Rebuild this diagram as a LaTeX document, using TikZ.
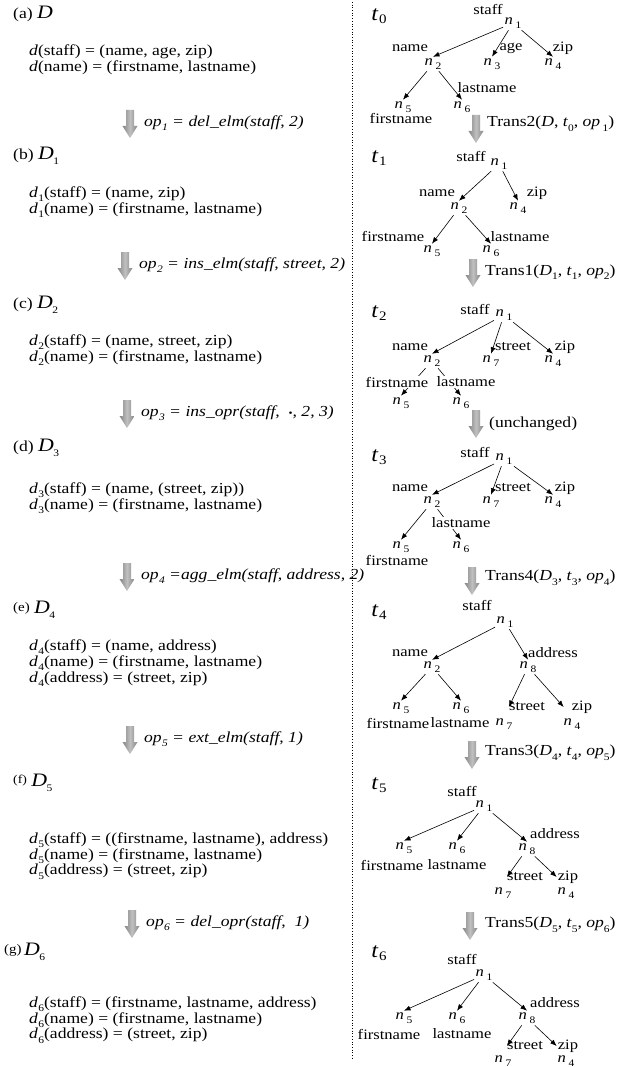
\documentclass[tikz,border=0pt]{standalone}
\usepackage{fontspec}
\setmainfont{Liberation Serif}[FakeStretch=1.15]
\usetikzlibrary{arrows.meta}
\newcommand\sbs[1]{\raisebox{-0.3em}{\fontsize{10}{10}\selectfont #1}}
\newcommand\nlab[1]{\textit{n}\hspace{2.5pt}\sbs{#1}}
\newcommand\bigD[1]{{\fontsize{19}{19}\selectfont\textit{D}}\kern-0.5pt\sbs{#1}}
\newcommand\tlab[1]{{\fontsize{21}{21}\selectfont\textit{t}}\kern0.5pt\raisebox{-0.25em}{\fontsize{13}{13}\selectfont #1}}
\newcommand\dd[1]{\textit{d}\kern0.3pt\sbs{#1}}
\newcommand\opl[1]{\textit{op}\kern0.3pt\sbs{#1}}
\newcommand\lfont{\fontsize{15.3}{16}\selectfont}
\newcommand\tfont{\fontsize{14.4}{15}\selectfont}
\begin{document}
\begin{tikzpicture}[x=1pt,y=-1pt,
  every node/.style={inner sep=0pt},
  txt/.style={anchor=west, font=\lfont},
  hd/.style={anchor=west, font=\lfont},
  wd/.style={font=\tfont},
  nd/.style={font=\tfont, inner sep=1.5pt},
  hide/.style={font=\tfont, fill=white, inner sep=1pt},
  tl/.style={anchor=west, font=\lfont},
  edge/.style={-{Latex[length=6.5pt,width=5pt]}, line width=0.6pt},
  garrow/.pic={\path[left color=gray!95, right color=gray!95, middle color=gray!50]
     (-4,-14) -- (4,-14) -- (4,2) -- (7.5,2) -- (0,14) -- (-7.5,2) -- (-4,2) -- cycle;}
]
\fill[white] (0,0) rectangle (618,1067);
\useasboundingbox (0,0) rectangle (618,1067);
% dotted separator
\coordinate (dtop) at (352,2);
\coordinate (dbot) at (352,1058);
\draw[dotted, line width=0.7pt] (dtop) -- (dbot);

% ---------------- left column ----------------
\node[hd] (ha) at (13,15) {(a) \bigD{}};
\node[txt] (a1) at (29,52) {\textit{d}(staff) = (name, age, zip)};
\node[txt] (a2) at (29,68) {\textit{d}(name) = (firstname, lastname)};
\pic at (130,124) {garrow};
\node[tl] (op1) at (144,123) {\textit{\opl{1} = del\_elm(staff, 2)}};

\node[hd] (hb) at (13,156) {(b) \bigD{1}};
\node[txt] (b1) at (29,194) {\dd{1}(staff) = (name, zip)};
\node[txt] (b2) at (29,210) {\dd{1}(name) = (firstname, lastname)};
\pic at (125,266) {garrow};
\node[tl] (op2) at (139,265) {\textit{\opl{2} = ins\_elm(staff, street, 2)}};

\node[hd] (hc) at (13,305) {(c) \bigD{2}};
\node[txt] (c1) at (29,342) {\dd{2}(staff) = (name, street, zip)};
\node[txt] (c2) at (29,358) {\dd{2}(name) = (firstname, lastname)};
\pic at (127,414) {garrow};
\node[tl] (op3) at (141,413) {\textit{\opl{3} = ins\_opr(staff, \ {\fontsize{10}{10}\selectfont\upshape •}, 2, 3)}};

\node[hd] (hd3) at (13,448) {(d) \bigD{3}};
\node[txt] (d1) at (29,490) {\dd{3}(staff) = (name, (street, zip))};
\node[txt] (d2) at (29,506) {\dd{3}(name) = (firstname, lastname)};
\pic at (127,577) {garrow};
\node[tl] (op4) at (141,576) {\textit{\opl{4} =agg\_elm(staff, address, 2)}};

\node[hd] (he) at (13,610) {{\fontsize{13}{13}\selectfont\raisebox{0.2em}{(e)}} \bigD{4}};
\node[txt] (e1) at (29,647) {\dd{4}(staff) = (name, address)};
\node[txt] (e2) at (29,663) {\dd{4}(name) = (firstname, lastname)};
\node[txt] (e3) at (29,679) {\dd{4}(address) = (street, zip)};
\pic at (130,740) {garrow};
\node[tl] (op5) at (144,739) {\textit{\opl{5} = ext\_elm(staff, 1)}};

\node[hd] (hf) at (13,783) {{\fontsize{12}{12}\selectfont\raisebox{0.25em}{(f)}} \bigD{5}};
\node[txt] (f1) at (29,840) {\dd{5}(staff) = ((firstname, lastname), address)};
\node[txt] (f2) at (29,856) {\dd{5}(name) = (firstname, lastname)};
\node[txt] (f3) at (29,872) {\dd{5}(address) = (street, zip)};
\pic at (132,924) {garrow};
\node[tl] (op6) at (146,923) {\textit{\opl{6} = del\_opr(staff, \ 1)}};

\node[hd] (hg) at (4,952) {{\fontsize{13}{13}\selectfont\raisebox{0.2em}{(g)}}\,\bigD{6}};
\node[txt] (g1) at (29,1004) {\dd{6}(staff) = (firstname, lastname, address)};
\node[txt] (g2) at (29,1020) {\dd{6}(name) = (firstname, lastname)};
\node[txt] (g3) at (29,1036) {\dd{6}(address) = (street, zip)};

% ---------------- right column ----------------
% t0
\node (t0) at (379,16) {\tlab{0}};
\node[wd] (t0s) at (488,10) {staff};
\node[nd] (t0n1) at (513,23) {\nlab{1}};
\node[wd] (t0name) at (410,48) {name};
\node[nd] (t0n2) at (433,64) {\nlab{2}};
\node[wd] (t0age) at (511,48) {age};
\node[nd] (t0n3) at (492,64) {\nlab{3}};
\node[wd] (t0zip) at (563,48) {zip};
\node[nd] (t0n4) at (553,64) {\nlab{4}};
\node[wd] (t0last) at (487,88) {lastname};
\node[nd] (t0n5) at (403,107) {\nlab{5}};
\node[nd] (t0n6) at (462,107) {\nlab{6}};
\node[wd] (t0first) at (401,119) {firstname};
\draw[edge] (t0n1) -- (t0n2.north);
\draw[edge] (t0n1) -- (t0n3.north);
\draw[edge] (t0n1) -- (t0n4.north);
\draw[edge] (t0n2) -- (t0n5.north);
\draw[edge] (t0n2) -- (t0n6.north);
\pic at (476,129) {garrow};
\node[tl] (tr2) at (487,124) {Trans2(\textit{D}, \textit{t}\sbs{0}, \textit{op}\,\sbs{1})};

% t1
\node (t1) at (379,158) {\tlab{1}};
\node[wd] (t1s) at (471,157) {staff};
\node[nd] (t1n1) at (499,164) {\nlab{1}};
\node[wd] (t1name) at (437,193) {name};
\node[nd] (t1n2) at (459,208) {\nlab{2}};
\node[wd] (t1zip) at (537,193) {zip};
\node[nd] (t1n4) at (518,208) {\nlab{4}};
\node[wd] (t1first) at (393,237) {firstname};
\node[nd] (t1n5) at (432,251) {\nlab{5}};
\node[wd] (t1last) at (520,237) {lastname};
\node[nd] (t1n6) at (491,251) {\nlab{6}};
\draw[edge] (t1n1) -- (t1n2.north);
\draw[edge] (t1n1) -- (t1n4.north);
\draw[edge] (t1n2) -- (t1n5.north);
\draw[edge] (t1n2) -- (t1n6.north);
\pic at (473,273) {garrow};
\node[tl] (tr1) at (485,272) {Trans1(\textit{D}\sbs{1}, \textit{t}\sbs{1}, \textit{op}\sbs{2})};

% t2
\node (t2) at (379,313) {\tlab{2}};
\node[wd] (t2s) at (475,310) {staff};
\node[nd] (t2n1) at (504,315) {\nlab{1}};
\node[wd] (t2name) at (410,347) {name};
\node[nd] (t2n2) at (432,361) {\nlab{2}};
\node[wd] (t2street) at (513,347) {street};
\node[nd] (t2n7) at (491,361) {\nlab{7}};
\node[wd] (t2zip) at (565,347) {zip};
\node[nd] (t2n4) at (553,361) {\nlab{4}};
\node[nd] (t2n5) at (401,403) {\nlab{5}};
\node[nd] (t2n6) at (461,403) {\nlab{6}};
\draw[edge] (t2n1) -- (t2n2.north);
\draw[edge] (t2n1) -- (t2n7.north);
\draw[edge] (t2n1) -- (t2n4.north);
\draw[edge] (t2n2) -- (t2n5.north);
\draw[edge] (t2n2) -- (t2n6.north);
\node[hide] (t2first) at (397,382) {firstname};
\node[hide] (t2last) at (466,382) {lastname};
\pic at (476,424) {garrow};
\node[tl] (tru) at (489,424) {(unchanged)};

% t3
\node (t3) at (379,457) {\tlab{3}};
\node[wd] (t3s) at (475,452) {staff};
\node[nd] (t3n1) at (504,459) {\nlab{1}};
\node[wd] (t3name) at (410,488) {name};
\node[nd] (t3n2) at (432,502) {\nlab{2}};
\node[wd] (t3street) at (513,488) {street};
\node[nd] (t3n7) at (491,502) {\nlab{7}};
\node[wd] (t3zip) at (565,488) {zip};
\node[nd] (t3n4) at (553,502) {\nlab{4}};
\node[nd] (t3n5) at (401,547) {\nlab{5}};
\node[nd] (t3n6) at (461,547) {\nlab{6}};
\node[wd] (t3first) at (397,560) {firstname};
\draw[edge] (t3n1) -- (t3n2.north);
\draw[edge] (t3n1) -- (t3n7.north);
\draw[edge] (t3n1) -- (t3n4.north);
\draw[edge] (t3n2) -- (t3n5.north);
\draw[edge] (t3n2) -- (t3n6.north);
\node[hide] (t3last) at (461,523) {lastname};
\pic at (472,581) {garrow};
\node[tl] (tr4) at (485,578) {Trans4(\textit{D}\sbs{3}, \textit{t}\sbs{3}, \textit{op}\sbs{4})};

% t4
\node (t4) at (379,612) {\tlab{4}};
\node[wd] (t4s) at (477,605) {staff};
\node[nd] (t4n1) at (505,622) {\nlab{1}};
\node[wd] (t4name) at (410,653) {name};
\node[nd] (t4n2) at (432,667) {\nlab{2}};
\node[wd] (t4addr) at (553,653) {address};
\node[nd] (t4n8) at (528,667) {\nlab{8}};
\node[nd] (t4n5) at (401,708) {\nlab{5}};
\node[nd] (t4n6) at (461,708) {\nlab{6}};
\node[wd] (t4street) at (527,707) {street};
\node[wd] (t4zip) at (582,707) {zip};
\node[wd] (t4first) at (398,723) {firstname};
\node[wd] (t4last) at (460,723) {lastname};
\node[nd] (t4n7) at (504,724) {\nlab{7}};
\node[nd] (t4n4) at (572,724) {\nlab{4}};
\draw[edge] (t4n1) -- (t4n2.north);
\draw[edge] (t4n1) -- (t4n8.north);
\draw[edge] (t4n2) -- (t4n5.north);
\draw[edge] (t4n2) -- (t4n6.north);
\draw[edge] (t4n8) -- (t4street.west);
\draw[edge] (t4n8) -- ([xshift=-8pt]t4zip.west);
\pic at (472,755) {garrow};
\node[tl] (tr3) at (485,753) {Trans3(\textit{D}\sbs{4}, \textit{t}\sbs{4}, \textit{op}\sbs{5})};

% t5
\node (t5) at (379,785) {\tlab{5}};
\node[wd] (t5s) at (462,791) {staff};
\node[nd] (t5n1) at (484,806) {\nlab{1}};
\node[nd] (t5n5) at (404,848) {\nlab{5}};
\node[nd] (t5n6) at (457,848) {\nlab{6}};
\node[wd] (t5addr) at (555,834) {address};
\node[nd] (t5n8) at (527,849) {\nlab{8}};
\node[wd] (t5first) at (392,865) {firstname};
\node[wd] (t5last) at (457,865) {lastname};
\node[wd] (t5street) at (525,877) {street};
\node[wd] (t5zip) at (568,877) {zip};
\node[nd] (t5n7) at (503,893) {\nlab{7}};
\node[nd] (t5n4) at (566,893) {\nlab{4}};
\draw[edge] (t5n1) -- (t5n5.north);
\draw[edge] (t5n1) -- (t5n6.north);
\draw[edge] (t5n1) -- (t5n8.north);
\draw[edge] (t5n8) -- (t5street.west);
\draw[edge] (t5n8) -- ([xshift=-1pt]t5zip.west);
\pic at (470,926) {garrow};
\node[tl] (tr5) at (485,925) {Trans5(\textit{D}\sbs{5}, \textit{t}\sbs{5}, \textit{op}\sbs{6})};

% t6
\node (t6) at (379,953) {\tlab{6}};
\node[wd] (t6s) at (462,959) {staff};
\node[nd] (t6n1) at (484,975) {\nlab{1}};
\node[nd] (t6n5) at (404,1018) {\nlab{5}};
\node[nd] (t6n6) at (457,1018) {\nlab{6}};
\node[wd] (t6addr) at (555,1003) {address};
\node[nd] (t6n8) at (527,1018) {\nlab{8}};
\node[wd] (t6first) at (389,1034) {firstname};
\node[wd] (t6last) at (462,1034) {lastname};
\node[wd] (t6street) at (525,1046) {street};
\node[wd] (t6zip) at (568,1046) {zip};
\node[nd] (t6n7) at (503,1061) {\nlab{7}};
\node[nd] (t6n4) at (566,1061) {\nlab{4}};
\draw[edge] (t6n1) -- (t6n5.north);
\draw[edge] (t6n1) -- (t6n6.north);
\draw[edge] (t6n1) -- (t6n8.north);
\draw[edge] (t6n8) -- (t6street.west);
\draw[edge] (t6n8) -- ([xshift=-1pt]t6zip.west);
\end{tikzpicture}
\end{document}
